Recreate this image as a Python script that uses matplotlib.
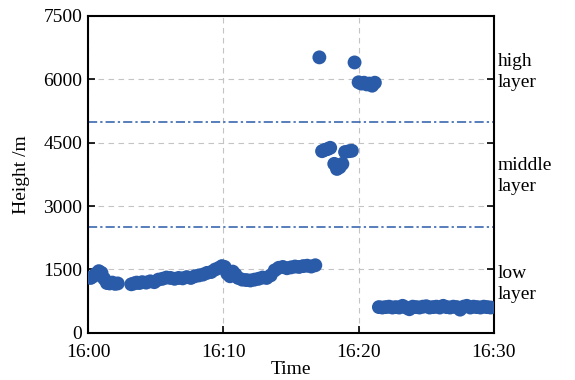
import matplotlib

matplotlib.use("Agg")
import matplotlib.pyplot as plt

plt.rcParams["font.family"] = ["Liberation Serif", "DejaVu Serif"]
plt.rcParams["font.size"] = 14

# minutes after 16:00, heights in m
low1_t = [0.2, 0.4, 0.6, 0.8, 1.0, 1.2, 1.4, 1.6, 1.8, 2.0, 2.2,
          3.2, 3.4, 3.6, 3.8, 4.0, 4.3, 4.6, 4.9, 5.2, 5.5, 5.8, 6.1, 6.4,
          6.7, 7.0, 7.3, 7.6, 7.9, 8.2, 8.5, 8.8, 9.1, 9.4, 9.7, 9.9, 10.1,
          10.3, 10.5, 10.7, 10.9, 11.1, 11.4, 11.7, 12.0, 12.3, 12.6, 12.9,
          13.2, 13.5, 13.8, 14.1, 14.4, 14.7, 15.0, 15.3, 15.6, 15.9, 16.2,
          16.5, 16.8]
low1_h = [1300, 1340, 1400, 1460, 1420, 1280, 1180, 1170, 1190, 1160, 1170,
          1150, 1170, 1190, 1180, 1200, 1190, 1220, 1200, 1260, 1280, 1310,
          1300, 1280, 1300, 1290, 1320, 1300, 1340, 1360, 1380, 1420, 1440,
          1500, 1540, 1580, 1560, 1400, 1340, 1450, 1380, 1300, 1260, 1250,
          1240, 1260, 1280, 1310, 1300, 1360, 1480, 1540, 1560, 1530, 1550,
          1570, 1560, 1580, 1590, 1570, 1600]

mid_t = [17.1, 17.3, 17.5, 17.7, 17.9, 18.2, 18.4, 18.6, 18.8, 19.0, 19.3,
         19.5, 19.7, 20.0, 20.2, 20.4, 20.6, 20.8, 21.0, 21.2]
mid_h = [6520, 4300, 4330, 4350, 4380, 4000, 3880, 3920, 4000, 4280, 4300,
         4310, 6400, 5930, 5900, 5920, 5880, 5900, 5850, 5920]

low2_t = [21.5, 21.75, 22.0, 22.25, 22.5, 22.75, 23.0, 23.25, 23.5, 23.75,
          24.0, 24.25, 24.5, 24.75, 25.0, 25.25, 25.5, 25.75, 26.0, 26.25,
          26.5, 26.75, 27.0, 27.25, 27.5, 27.75, 28.0, 28.25, 28.5, 28.75,
          29.0, 29.25, 29.5, 29.75]
low2_h = [610, 600, 610, 620, 600, 610, 600, 640, 600, 560, 620, 610, 600,
          620, 630, 600, 610, 620, 600, 640, 610, 600, 620, 610, 550, 620,
          640, 600, 620, 610, 600, 620, 610, 600]

layer_bounds = [2500, 5000]
layer_names = ["low\nlayer", "middle\nlayer", "high\nlayer"]
layer_text_y = [1160, 3720, 6170]

yticks = [0, 1500, 3000, 4500, 6000, 7500]
xticks = [0, 10, 20, 30]
xtick_labels = ["16:00", "16:10", "16:20", "16:30"]

BLUE = "#2a5ba8"

fig = plt.figure(figsize=(5.75, 3.8), dpi=100)
ax = fig.add_axes([0.153, 0.124, 0.706, 0.834])

t_all = low1_t + mid_t + low2_t
h_all = low1_h + mid_h + low2_h
ax.scatter(t_all, h_all, s=100, color=BLUE, edgecolors="none", zorder=3)

for b in layer_bounds:
    ax.axhline(b, color=BLUE, linestyle=(0, (6, 2, 1.5, 2)), linewidth=1.1, zorder=2)

for name, y in zip(layer_names, layer_text_y):
    ax.text(1.01, y, name, transform=ax.get_yaxis_transform(), va="center",
            ha="left", fontsize=14, linespacing=1.3)

ax.set_xlim(0, 30)
ax.set_ylim(0, 7500)
ax.set_xticks(xticks)
ax.set_xticklabels(xtick_labels)
ax.set_yticks(yticks)
ax.grid(True, color="#c4c4c4", linestyle=(0, (5, 4)), linewidth=0.8)
ax.tick_params(direction="in", right=True, top=False, length=5, width=1.2)
ax.tick_params(axis="x", pad=8)
ax.tick_params(axis="y", pad=4)
for s in ax.spines.values():
    s.set_linewidth(1.5)
ax.set_xlabel("Time", labelpad=0)
ax.set_ylabel("Height /m", labelpad=10)

fig.savefig("out.png", dpi=100)
